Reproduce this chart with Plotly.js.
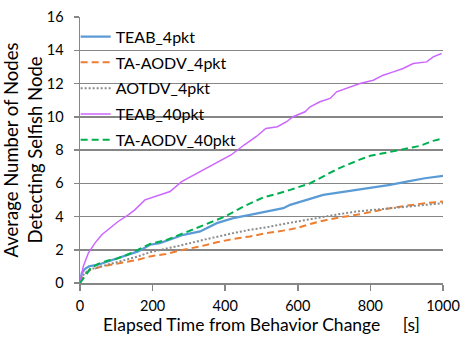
<!DOCTYPE html>
<html>
<head>
<meta charset="utf-8">
<script src="https://cdn.plot.ly/plotly-3.0.1.min.js"></script>
<style>html,body{margin:0;padding:0;background:#fff;}#chart{width:462px;height:338px;}</style>
</head>
<body>
<div id="chart"></div>
<script>
const seriesNames = ["TEAB_4pkt", "TA-AODV_4pkt", "AOTDV_4pkt", "TEAB_40pkt", "TA-AODV_40pkt"];

const teab4X = [0, 5, 14, 25, 50, 77, 100, 130, 160, 193, 220, 285, 331, 377, 422, 468, 514, 560, 579, 625, 670, 716, 762, 808, 854, 900, 950, 1000];
const teab4Y = [0, 0.6, 0.85, 1.0, 1.1, 1.3, 1.45, 1.65, 1.9, 2.3, 2.4, 2.9, 3.1, 3.6, 3.9, 4.1, 4.3, 4.5, 4.7, 5.0, 5.3, 5.45, 5.6, 5.75, 5.9, 6.1, 6.3, 6.45];

const taaodv4X = [0, 10, 25, 60, 100, 124, 160, 193, 237, 285, 331, 377, 422, 468, 514, 560, 597, 634, 670, 716, 762, 808, 854, 900, 950, 1000];
const taaodv4Y = [0, 0.5, 0.75, 1.0, 1.15, 1.25, 1.4, 1.6, 1.75, 2.0, 2.2, 2.45, 2.65, 2.8, 3.0, 3.15, 3.3, 3.55, 3.75, 3.95, 4.1, 4.3, 4.5, 4.65, 4.8, 4.9];

const aotdv4X = [0, 10, 25, 50, 77, 120, 160, 193, 237, 285, 331, 377, 422, 468, 514, 560, 597, 634, 670, 716, 762, 808, 854, 900, 950, 1000];
const aotdv4Y = [0, 0.5, 0.8, 0.95, 1.1, 1.35, 1.6, 1.85, 2.05, 2.3, 2.55, 2.8, 3.0, 3.2, 3.35, 3.55, 3.7, 3.85, 4.0, 4.15, 4.3, 4.4, 4.5, 4.6, 4.7, 4.8];

const teab40X = [0, 9, 23, 41, 60, 78, 105, 133, 151, 179, 207, 248, 280, 331, 344, 380, 416, 452, 485, 512, 544, 569, 587, 620, 634, 661, 689, 707, 735, 771, 808, 835, 863, 890, 918, 955, 973, 996];
const teab40Y = [0, 1.0, 1.8, 2.4, 2.9, 3.2, 3.7, 4.1, 4.4, 5.0, 5.2, 5.5, 6.1, 6.7, 6.9, 7.3, 7.7, 8.3, 8.8, 9.3, 9.4, 9.7, 10.0, 10.3, 10.6, 10.9, 11.1, 11.5, 11.7, 12.0, 12.2, 12.5, 12.7, 12.9, 13.2, 13.3, 13.6, 13.8];

const taaodv40X = [0, 14, 30, 50, 77, 100, 130, 160, 193, 240, 285, 331, 377, 400, 450, 505, 540, 579, 634, 698, 713, 774, 800, 835, 872, 900, 937, 973, 1000];
const taaodv40Y = [0, 0.4, 0.9, 1.15, 1.35, 1.45, 1.7, 2.0, 2.35, 2.6, 3.0, 3.4, 3.8, 4.0, 4.6, 5.15, 5.35, 5.6, 6.0, 6.7, 6.9, 7.45, 7.65, 7.8, 7.95, 8.1, 8.25, 8.55, 8.7];

const xTicks = [0, 200, 400, 600, 800, 1000];
const yTicks = [0, 2, 4, 6, 8, 10, 12, 14, 16];

const FONT = "Lato, 'Open Sans', sans-serif";

const styles = [
  {color: "#5B9BD5", width: 2.25, dash: "solid"},
  {color: "#ED7D31", width: 2, dash: "7px,4px"},
  {color: "#8C8C8C", width: 2, dash: "2px,2px"},
  {color: "#CC66FF", width: 1.5, dash: "solid"},
  {color: "#00B050", width: 2, dash: "7px,4px"}
];
const xs = [teab4X, taaodv4X, aotdv4X, teab40X, taaodv40X];
const ys = [teab4Y, taaodv4Y, aotdv4Y, teab40Y, taaodv40Y];

const data = seriesNames.map((n, i) => ({
  x: xs[i], y: ys[i], name: n, type: "scatter", mode: "lines",
  legendgroup: "g" + i,
  line: {color: styles[i].color, width: styles[i].width, dash: styles[i].dash}
}));

const layout = {
  width: 462, height: 338,
  margin: {l: 80, r: 19, t: 17, b: 55},
  paper_bgcolor: "#fff", plot_bgcolor: "#fff",
  font: {family: FONT, size: 14, color: "#000"},
  showlegend: true,
  legend: {
    x: -0.012, y: 0.99, xanchor: "left", yanchor: "top",
    bgcolor: "rgba(0,0,0,0)", borderwidth: 0,
    font: {family: FONT, size: 16, color: "#000"},
    itemwidth: 30, tracegroupgap: 2
  },
  xaxis: {
    range: [0, 1000], tickvals: xTicks, ticktext: xTicks.map(String),
    showgrid: false, zeroline: false,
    showline: true, linecolor: "#868686", linewidth: 1.5,
    ticks: "outside", ticklen: 6, tickcolor: "#868686", tickwidth: 1.5,
    ticklabelstandoff: 3,
    tickfont: {family: FONT, size: 14.5, color: "#000"},
    title: {text: "Elapsed Time from Behavior Change&nbsp;&nbsp;&nbsp;&nbsp;&nbsp;[s]", font: {family: FONT, size: 17.5, color: "#000"}, standoff: 3}
  },
  yaxis: {
    range: [0, 16], tickvals: yTicks, ticktext: yTicks.map(String),
    showgrid: true, gridcolor: "#868686", gridwidth: 1.5,
    zeroline: false,
    showline: true, linecolor: "#868686", linewidth: 1.5,
    ticks: "outside", ticklen: 5, tickcolor: "#868686", tickwidth: 1.5,
    ticklabelstandoff: 7,
    tickfont: {family: FONT, size: 14.5, color: "#000"},
    title: {text: "Average Number of Nodes<br>Detecting Selfish Node", font: {family: FONT, size: 18.5, color: "#000"}, standoff: 0}
  }
};

Plotly.newPlot("chart", data, layout, {displayModeBar: false, staticPlot: true});
</script>
</body>
</html>
